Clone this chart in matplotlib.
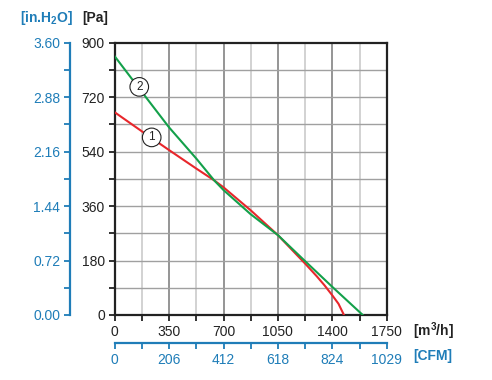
import matplotlib
matplotlib.use("Agg")
import matplotlib.pyplot as plt
import numpy as np

plt.rcParams['font.family'] = ['Liberation Sans', 'DejaVu Sans']
plt.rcParams['mathtext.fontset'] = 'custom'
plt.rcParams['mathtext.rm'] = 'Liberation Sans'
plt.rcParams['mathtext.bf'] = 'Liberation Sans:bold'

# Data (m3/h, Pa)
red_x = [0, 175, 350, 525, 640, 700, 875, 1050, 1225, 1300, 1350, 1400, 1440, 1475]
red_y = [670, 607, 545, 484, 445, 422, 346, 264, 170, 128, 98, 65, 37, 0]
green_x = [0, 175, 350, 525, 640, 700, 875, 1050, 1225, 1400, 1596]
green_y = [855, 737, 620, 517, 445, 413, 333, 264, 178, 93, 0]

x_ticks = [0, 350, 700, 1050, 1400, 1750]
y_ticks = [0, 180, 360, 540, 720, 900]
cfm_labels = ['0', '206', '412', '618', '824', '1029']
inh2o_ticks = [0.00, 0.72, 1.44, 2.16, 2.88, 3.60]

blue = '#1f7db8'
dark = '#222222'
red = '#e8262b'
green = '#13a04a'

fig = plt.figure(figsize=(4.92, 3.80), dpi=100)
pos = [114.7/492, 1-315/380, 272/492, 272.3/380]
ax = fig.add_axes(pos)
ax.set_xlim(0, 1750)
ax.set_ylim(0, 900)

# grid
for xv in np.arange(175, 1750, 175):
    major = (round(xv) % 350 == 0)
    ax.axvline(xv, color='#8c8c8c' if major else '#cfcfcf', lw=1.3, zorder=0)
for yv in np.arange(90, 900, 90):
    ax.axhline(yv, color='#a0a0a0', lw=1.0, zorder=0)

ax.plot(red_x, red_y, color=red, lw=1.5, zorder=3)
ax.plot(green_x, green_y, color=green, lw=1.5, zorder=3)

for s in ax.spines.values():
    s.set_linewidth(1.6)
    s.set_color(dark)

ax.set_xticks(x_ticks)
ax.set_xticks(np.arange(175, 1750, 350), minor=True)
ax.set_yticks(y_ticks)
ax.set_yticks(np.arange(90, 900, 180), minor=True)
ax.tick_params(which='both', direction='out', length=4, width=1.3, color=dark,
               labelsize=10, labelcolor=dark, pad=3)

# circled labels
ax.text(238, 587, '1', fontsize=8.5, ha='center', va='center', color=dark, zorder=5,
        bbox=dict(boxstyle='circle,pad=0.28', fc='white', ec=dark, lw=0.8))
ax.text(158, 754, '2', fontsize=8.5, ha='center', va='center', color=dark, zorder=5,
        bbox=dict(boxstyle='circle,pad=0.28', fc='white', ec=dark, lw=0.8))

# blue left axis (in.H2O)
axl = fig.add_axes(pos)
axl.patch.set_visible(False)
axl.set_ylim(0, 3.6)
axl.set_xlim(0, 1)
axl.xaxis.set_visible(False)
for k in ['top', 'right', 'bottom']:
    axl.spines[k].set_visible(False)
axl.spines['left'].set_position(('axes', (70 - 114.7) / 272))
axl.spines['left'].set_color(blue)
axl.spines['left'].set_linewidth(1.6)
axl.set_yticks(inh2o_ticks)
axl.set_yticklabels([f'{v:.2f}' for v in inh2o_ticks])
axl.set_yticks(np.arange(0.36, 3.6, 0.72), minor=True)
axl.tick_params(axis='y', which='both', direction='out', length=4, width=1.3,
                color=blue, labelcolor=blue, labelsize=10, pad=3)

# blue bottom axis (CFM)
axb = fig.add_axes(pos)
axb.patch.set_visible(False)
axb.set_xlim(0, 1750)
axb.yaxis.set_visible(False)
for k in ['top', 'right', 'left']:
    axb.spines[k].set_visible(False)
axb.spines['bottom'].set_position(('axes', -28 / 272.3))
axb.spines['bottom'].set_color(blue)
axb.spines['bottom'].set_linewidth(1.6)
axb.set_xticks(x_ticks)
axb.set_xticklabels(cfm_labels)
axb.set_xticks(np.arange(175, 1750, 350), minor=True)
axb.tick_params(axis='x', which='both', direction='out', length=4, width=1.3,
                color=blue, labelcolor=blue, labelsize=10, pad=3)

# unit labels
fig.text(413/492, 1-331/380, r'[m$^{\mathbf{3}}$/h]', fontsize=10, fontweight='bold',
         color=dark, ha='left', va='center')
fig.text(413/492, 1-356/380, '[CFM]', fontsize=10, fontweight='bold',
         color=blue, ha='left', va='center')
fig.text(82/492, 1-18/380, '[Pa]', fontsize=10, fontweight='bold',
         color=dark, ha='left', va='center')
fig.text(73/492, 1-18/380, r'[in.H$_{\mathbf{2}}$O]', fontsize=10, fontweight='bold',
         color=blue, ha='right', va='center')

fig.savefig('out.png', dpi=100)
